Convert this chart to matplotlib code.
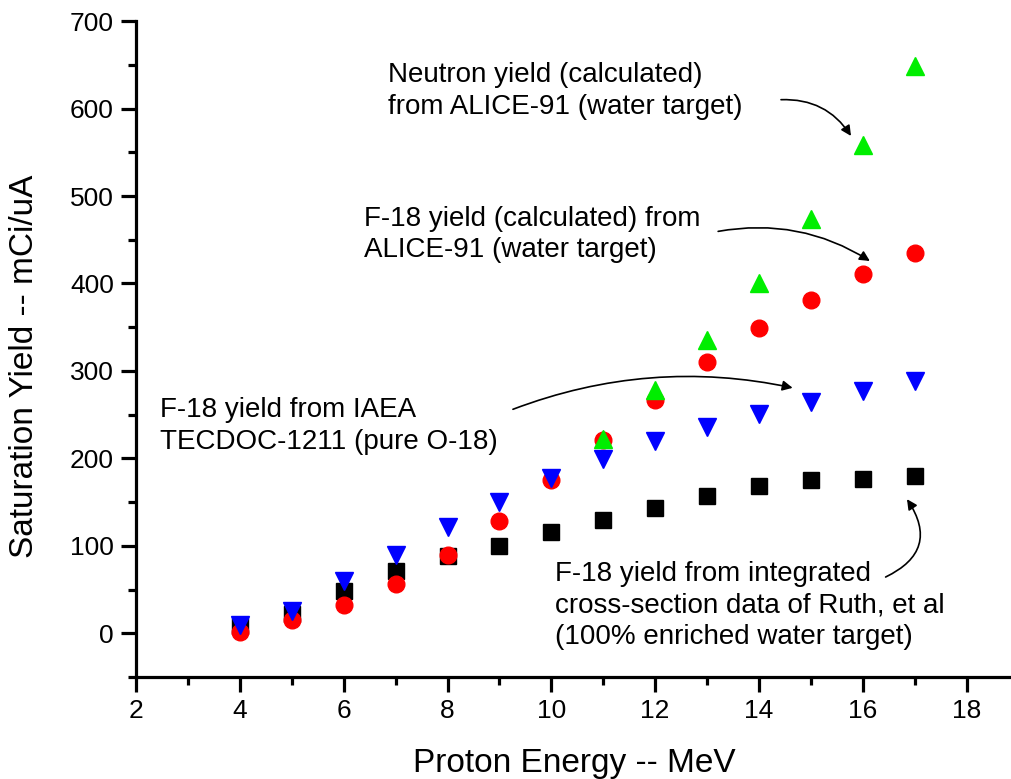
import matplotlib.pyplot as plt
from matplotlib.ticker import MultipleLocator

plt.rcParams['font.family'] = ['Liberation Sans', 'DejaVu Sans']

energy = [4, 5, 6, 7, 8, 9, 10, 11, 12, 13, 14, 15, 16, 17]
ruth = [8, 22, 48, 71, 88, 100, 116, 130, 143, 157, 169, 175, 177, 180]
f18_alice = [2, 15, 32, 56, 90, 128, 175, 221, 267, 310, 349, 381, 411, 435]
iaea = [9, 26, 60, 90, 121, 150, 178, 199, 220, 236, 251, 264, 277, 288]
neutron_energy = [11, 12, 13, 14, 15, 16, 17]
neutron = [222, 278, 335, 400, 474, 558, 649]

fig = plt.figure(figsize=(10.12, 7.79), dpi=100)
ax = fig.add_axes([0.1344, 0.1309, 0.867, 0.842])

ax.plot(energy, ruth, 's', color='black', markersize=11, linestyle='none')
ax.plot(energy, f18_alice, 'o', color='red', markersize=12, linestyle='none')
ax.plot(energy, iaea, 'v', color='blue', markersize=13, linestyle='none')
ax.plot(neutron_energy, neutron, '^', color='#00ee00', markersize=13, linestyle='none')

ax.set_xlim(2, 18.9)
ax.set_ylim(-50, 700)
ax.xaxis.set_major_locator(MultipleLocator(2))
ax.xaxis.set_minor_locator(MultipleLocator(1))
ax.yaxis.set_major_locator(MultipleLocator(100))
ax.yaxis.set_minor_locator(MultipleLocator(50))
ax.tick_params(which='major', direction='out', length=11, width=2.3, labelsize=19, pad=5)
ax.tick_params(which='minor', direction='out', length=6, width=2.3)
ax.spines['top'].set_visible(False)
ax.spines['right'].set_visible(False)
ax.spines['left'].set_linewidth(2.3)
ax.spines['bottom'].set_linewidth(2.3)

ax.set_xlabel('Proton Energy -- MeV', fontsize=24, labelpad=18)
ax.set_ylabel('Saturation Yield -- mCi/uA', fontsize=24)
ax.yaxis.set_label_coords(-0.109, 0.473)

fs = 20
ls = 1.28
ax.text(6.86, 620, 'Neutron yield (calculated)\nfrom ALICE-91 (water target)',
        fontsize=fs, va='center', ha='left', linespacing=ls)
ax.annotate('', xy=(15.8, 566), xytext=(14.37, 610),
            arrowprops=dict(arrowstyle='-|>', color='black', lw=1.2,
                            mutation_scale=15, connectionstyle='arc3,rad=-0.3'))

ax.text(6.39, 456, 'F-18 yield (calculated) from\nALICE-91 (water target)',
        fontsize=fs, va='center', ha='left', linespacing=ls)
ax.annotate('', xy=(16.18, 424), xytext=(13.16, 459),
            arrowprops=dict(arrowstyle='-|>', color='black', lw=1.2,
                            mutation_scale=15, connectionstyle='arc3,rad=-0.2'))

ax.text(2.46, 237, 'F-18 yield from IAEA\nTECDOC-1211 (pure O-18)',
        fontsize=fs, va='center', ha='left', linespacing=ls)
ax.annotate('', xy=(14.7, 280), xytext=(9.21, 255),
            arrowprops=dict(arrowstyle='-|>', color='black', lw=1.2,
                            mutation_scale=15, connectionstyle='arc3,rad=-0.15'))

ax.text(10.07, 32, 'F-18 yield from integrated\ncross-section data of Ruth, et al\n(100% enriched water target)',
        fontsize=fs, va='center', ha='left', linespacing=ls)
ax.annotate('', xy=(16.82, 156), xytext=(16.39, 63),
            arrowprops=dict(arrowstyle='-|>', color='black', lw=1.2,
                            mutation_scale=15, connectionstyle='arc3,rad=0.6'))

fig.savefig('out.png', dpi=100)
